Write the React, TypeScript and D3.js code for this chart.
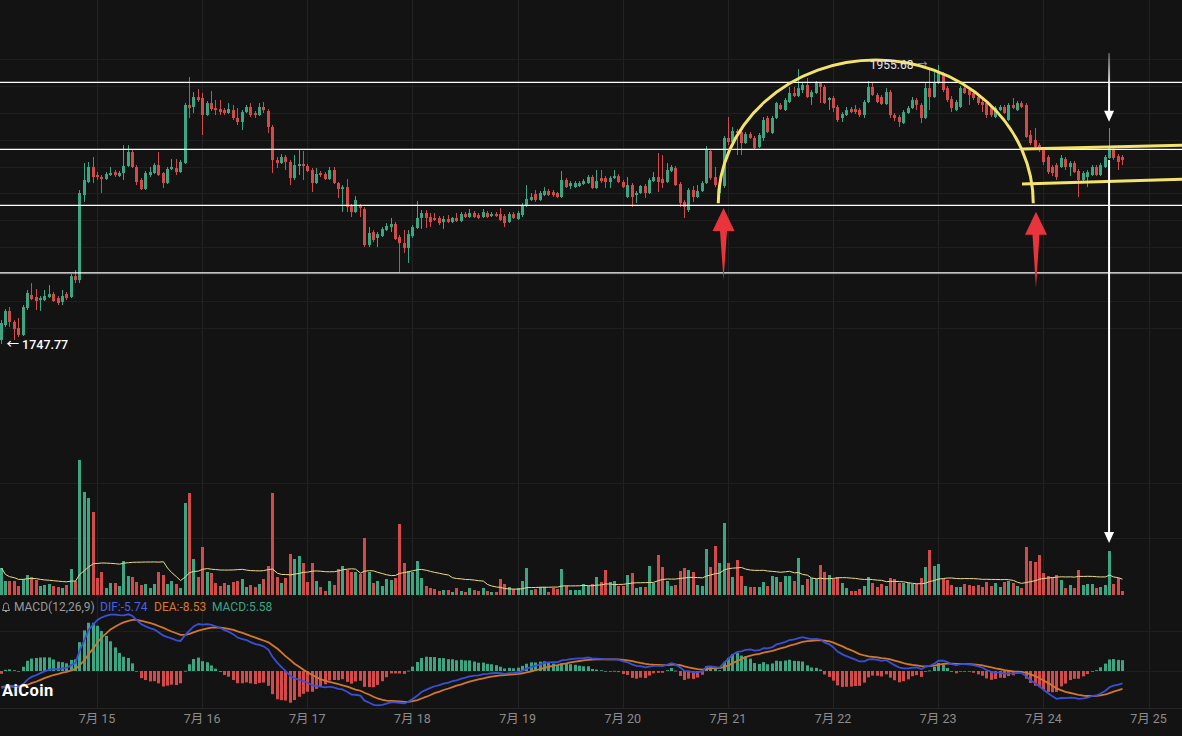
import React from 'react';
import * as d3 from 'd3';

// ---------- DATA ----------
const START = new Date(2023, 6, 14, 2, 0); // first hourly candle
// [open, high, low, close]
const CANDLES: [number, number, number, number][] = [
  [1750.7,1765.6,1747.77,1763.4],[1761.9,1773.8,1760.4,1772.4],[1772.4,1775.3,1760.4,1764.2],[1764.2,1765.6,1750.7,1758.9],[1759.7,1767.1,1753.0,1754.5],
  [1754.5,1776.8,1753.7,1775.3],[1774.6,1788.0,1773.1,1785.8],[1784.3,1793.2,1780.5,1781.3],[1782.8,1788.7,1773.1,1779.8],[1780.5,1783.5,1772.4,1782.0],
  [1780.5,1788.0,1779.8,1783.5],[1782.8,1791.7,1782.0,1785.0],[1785.0,1786.5,1779.1,1779.8],[1782.0,1783.5,1776.8,1778.3],[1779.1,1788.0,1776.8,1783.5],
  [1785.0,1786.5,1780.5,1782.0],[1782.8,1799.9,1782.0,1798.4],[1798.4,1802.9,1793.2,1795.4],[1795.4,1862.5,1793.2,1860.3],[1858.8,1882.6,1853.6,1870.0],
  [1868.5,1883.4,1867.7,1879.7],[1879.7,1887.1,1867.7,1872.2],[1873.7,1875.9,1870.0,1872.2],[1872.2,1873.7,1860.3,1870.7],[1870.7,1875.9,1870.0,1874.4],
  [1873.7,1879.7,1872.9,1875.2],[1875.9,1877.4,1872.2,1873.7],[1872.9,1876.7,1872.2,1875.2],[1875.2,1896.0,1870.0,1880.4],[1880.4,1896.0,1879.7,1890.8],
  [1890.8,1893.1,1878.9,1879.7],[1879.7,1881.1,1866.2,1868.5],[1870.0,1871.4,1862.5,1863.3],[1863.3,1876.7,1862.5,1875.2],[1873.7,1879.7,1872.2,1875.9],
  [1875.2,1882.6,1874.4,1881.1],[1881.1,1890.8,1872.9,1873.7],[1875.2,1875.9,1864.0,1867.7],[1867.7,1879.7,1867.0,1878.2],[1878.2,1885.6,1877.4,1879.7],
  [1878.9,1885.6,1873.7,1875.9],[1875.9,1884.9,1875.2,1883.4],[1882.6,1927.3,1881.9,1925.9],[1925.9,1946.7,1916.2,1923.6],[1924.4,1935.5,1919.9,1931.8],
  [1931.8,1937.8,1928.1,1929.6],[1931.1,1934.8,1903.5,1918.4],[1918.4,1928.8,1917.7,1927.3],[1927.3,1936.3,1921.4,1922.9],[1923.6,1929.6,1918.4,1922.1],
  [1922.9,1929.6,1918.4,1920.6],[1922.1,1923.6,1918.4,1919.9],[1919.9,1927.3,1919.1,1922.9],[1922.1,1925.9,1914.7,1916.2],[1916.2,1923.6,1910.9,1913.2],
  [1913.2,1922.1,1907.2,1920.6],[1920.6,1925.9,1919.9,1924.4],[1924.4,1927.3,1916.9,1918.4],[1919.9,1921.4,1916.2,1918.4],[1918.4,1927.3,1917.7,1924.4],
  [1924.4,1928.1,1919.9,1922.1],[1921.4,1922.9,1905.0,1909.5],[1909.5,1910.9,1875.2,1884.9],[1884.9,1887.1,1878.9,1882.6],[1882.6,1889.3,1881.9,1887.1],
  [1887.1,1888.6,1877.4,1883.4],[1883.4,1884.9,1866.2,1871.4],[1871.4,1888.6,1870.0,1881.1],[1880.4,1893.1,1873.7,1881.9],[1881.9,1891.6,1870.0,1880.4],
  [1880.4,1881.9,1875.9,1876.7],[1877.4,1878.9,1861.0,1867.7],[1867.7,1878.9,1867.0,1874.4],[1875.2,1876.7,1872.2,1873.7],[1874.4,1875.9,1870.0,1870.7],
  [1870.7,1879.7,1870.0,1877.4],[1877.4,1879.7,1867.0,1867.7],[1867.7,1868.5,1856.6,1863.3],[1863.3,1866.2,1846.1,1864.7],[1864.7,1870.7,1846.1,1849.8],
  [1850.6,1852.1,1842.4,1846.1],[1846.1,1858.0,1845.4,1855.1],[1850.6,1852.1,1842.4,1849.1],[1848.4,1849.8,1820.0,1821.5],[1821.5,1834.9,1820.0,1830.5],
  [1831.2,1832.7,1823.8,1825.3],[1826.8,1831.2,1820.0,1829.7],[1828.2,1834.9,1827.5,1833.5],[1832.7,1837.9,1832.0,1835.7],[1834.9,1841.7,1831.2,1837.2],
  [1837.2,1838.7,1825.3,1826.0],[1827.5,1829.0,1801.4,1823.0],[1823.0,1832.7,1815.6,1819.3],[1819.3,1832.7,1808.1,1829.7],[1828.2,1836.4,1826.8,1834.9],
  [1834.2,1854.3,1833.5,1841.7],[1841.7,1847.6,1833.5,1845.4],[1845.4,1847.6,1834.2,1841.7],[1842.4,1845.4,1834.9,1838.7],[1841.7,1845.4,1839.4,1840.2],
  [1841.7,1843.1,1836.4,1837.9],[1838.7,1843.1,1833.5,1840.9],[1840.9,1843.9,1837.9,1838.7],[1838.7,1842.4,1837.9,1841.7],[1841.7,1845.4,1838.7,1839.4],
  [1839.4,1846.1,1838.7,1844.6],[1844.6,1846.1,1841.7,1842.4],[1842.4,1848.4,1841.7,1845.4],[1845.4,1846.9,1841.7,1842.4],[1843.9,1845.4,1840.9,1841.7],
  [1842.4,1848.4,1841.7,1846.1],[1845.4,1846.9,1841.7,1842.4],[1843.1,1846.1,1842.4,1844.6],[1844.6,1846.1,1842.4,1843.1],[1844.6,1849.1,1839.4,1840.2],
  [1843.1,1844.6,1834.9,1837.9],[1838.7,1846.1,1837.9,1844.6],[1844.6,1846.1,1840.9,1841.7],[1840.9,1846.9,1840.2,1845.4],[1843.9,1852.8,1842.4,1851.3],
  [1850.6,1866.2,1849.8,1855.8],[1855.1,1860.3,1854.3,1857.3],[1859.5,1862.5,1853.6,1855.1],[1855.1,1861.8,1854.3,1860.3],[1858.8,1864.7,1858.0,1861.8],
  [1861.8,1863.3,1858.0,1858.8],[1861.0,1862.5,1857.3,1858.8],[1860.3,1861.0,1856.6,1857.3],[1857.3,1876.7,1856.6,1870.0],[1870.0,1871.4,1864.0,1864.7],
  [1865.5,1869.2,1863.3,1867.7],[1864.7,1869.2,1864.0,1867.7],[1865.5,1869.2,1864.7,1867.7],[1867.0,1870.7,1866.2,1869.2],[1867.7,1873.7,1867.0,1872.2],
  [1872.2,1873.7,1863.3,1864.0],[1864.0,1877.4,1863.3,1869.2],[1871.4,1877.4,1867.7,1869.2],[1871.4,1872.9,1864.0,1868.5],[1868.5,1872.9,1864.0,1871.4],
  [1871.4,1877.4,1870.7,1872.9],[1872.9,1874.4,1867.7,1868.5],[1868.5,1870.0,1864.0,1864.7],[1857.3,1872.2,1856.6,1866.2],[1866.2,1867.7,1849.8,1857.3],
  [1858.8,1861.8,1852.8,1860.3],[1860.3,1866.2,1859.5,1865.5],[1865.5,1867.0,1856.6,1860.3],[1860.3,1871.4,1859.5,1870.0],[1869.2,1875.9,1868.5,1872.2],
  [1872.2,1890.1,1861.0,1868.5],[1870.7,1888.6,1864.0,1867.7],[1868.5,1882.6,1867.7,1877.4],[1876.7,1881.1,1875.9,1879.7],[1878.9,1880.4,1865.5,1866.2],
  [1867.0,1868.5,1849.8,1852.8],[1853.6,1855.1,1841.7,1849.8],[1847.6,1864.0,1846.1,1862.5],[1862.5,1865.5,1853.6,1857.3],[1857.3,1866.2,1856.6,1861.8],
  [1861.8,1869.2,1861.0,1867.7],[1867.7,1895.3,1867.0,1892.3],[1891.6,1893.1,1870.0,1871.4],[1872.2,1879.7,1864.7,1866.2],[1860.3,1867.7,1856.6,1866.2],
  [1865.5,1902.8,1864.0,1901.3],[1901.3,1916.9,1896.0,1898.3],[1898.3,1909.5,1897.5,1906.5],[1906.5,1908.0,1888.6,1905.0],[1905.7,1907.2,1888.6,1897.5],
  [1897.5,1905.7,1896.8,1904.2],[1904.2,1905.7,1900.5,1901.3],[1901.3,1902.8,1893.1,1893.8],[1894.6,1905.0,1893.8,1903.5],[1901.3,1916.9,1899.0,1914.7],
  [1916.2,1917.7,1905.0,1905.7],[1905.0,1917.7,1904.2,1916.2],[1916.2,1928.1,1915.4,1927.3],[1925.9,1927.3,1922.1,1922.9],[1922.1,1931.1,1921.4,1929.6],
  [1928.1,1939.3,1927.3,1934.8],[1934.8,1939.3,1931.8,1932.6],[1932.6,1952.7,1931.8,1938.5],[1937.0,1943.0,1934.8,1940.8],[1940.8,1946.0,1931.1,1931.8],
  [1931.8,1937.0,1925.9,1935.5],[1934.8,1943.7,1934.0,1942.2],[1942.2,1943.0,1927.3,1939.3],[1939.3,1940.8,1926.6,1927.3],[1929.6,1931.8,1922.1,1931.1],
  [1931.1,1932.6,1920.6,1923.6],[1924.4,1925.9,1913.2,1914.7],[1916.2,1920.6,1913.2,1919.1],[1918.4,1924.4,1917.7,1922.1],[1922.9,1924.4,1919.9,1920.6],
  [1922.9,1925.9,1919.1,1920.6],[1922.1,1923.6,1916.9,1918.4],[1918.4,1929.6,1916.2,1928.1],[1928.1,1943.7,1927.3,1939.3],[1939.3,1942.2,1932.6,1933.3],
  [1933.3,1934.8,1927.3,1928.1],[1931.8,1933.3,1925.9,1926.6],[1926.6,1938.5,1925.9,1935.5],[1935.5,1937.0,1916.2,1918.4],[1918.4,1919.9,1913.9,1916.2],
  [1916.9,1918.4,1909.5,1913.2],[1912.4,1922.1,1911.7,1920.6],[1919.9,1925.1,1919.1,1923.6],[1923.6,1931.8,1922.9,1929.6],[1929.6,1931.1,1922.1,1925.9],
  [1925.9,1927.3,1912.4,1916.2],[1916.2,1942.2,1915.4,1938.5],[1938.5,1953.4,1922.1,1931.8],[1931.8,1950.4,1931.1,1942.2],[1942.2,1955.68,1941.5,1949.7],
  [1948.2,1950.4,1935.5,1937.0],[1938.5,1940.0,1928.1,1929.6],[1930.3,1932.6,1920.6,1923.6],[1922.1,1929.6,1921.4,1928.1],[1924.4,1940.0,1923.6,1938.5],
  [1938.5,1940.8,1934.0,1934.8],[1937.0,1938.5,1925.9,1933.3],[1934.8,1936.3,1929.6,1931.1],[1931.8,1933.3,1925.9,1927.3],[1928.1,1929.6,1920.6,1925.9],
  [1927.3,1928.8,1916.2,1918.4],[1924.4,1925.9,1916.9,1918.4],[1916.9,1925.1,1916.2,1923.6],[1922.1,1925.9,1921.4,1924.4],[1924.4,1925.9,1919.1,1919.9],
  [1914.7,1927.3,1913.9,1925.9],[1925.9,1931.1,1922.9,1923.6],[1922.1,1928.8,1921.4,1927.3],[1927.3,1928.8,1923.6,1924.4],[1925.9,1927.3,1901.3,1902.0],
  [1903.5,1907.2,1896.0,1897.5],[1899.8,1908.7,1893.8,1894.6],[1896.0,1897.5,1890.8,1892.3],[1892.3,1893.8,1881.1,1883.4],[1887.1,1888.6,1874.4,1875.9],
  [1879.7,1881.1,1872.9,1875.2],[1881.1,1882.6,1870.0,1872.2],[1879.7,1888.6,1878.9,1886.4],[1885.6,1887.1,1877.4,1879.7],[1879.7,1884.1,1872.9,1882.6],
  [1882.6,1884.1,1875.2,1875.9],[1876.7,1878.2,1857.3,1870.0],[1870.0,1876.7,1868.5,1875.2],[1872.2,1877.4,1864.7,1875.9],[1873.7,1881.1,1872.9,1879.7],
  [1879.7,1881.1,1872.9,1873.7],[1873.7,1882.6,1872.9,1881.1],[1879.7,1888.6,1878.9,1887.1],[1886.4,1908.7,1885.6,1893.8],[1892.3,1893.8,1884.9,1886.4],
  [1887.8,1889.3,1877.4,1883.4],[1887.1,1888.6,1881.1,1884.9],
];

const VOLUME = [
  27,14,14,14,9,16,20,18,15,9,
  10,11,9,8,7,10,26,14,135,103,
  97,83,17,23,7,12,12,9,34,19,
  18,13,10,11,7,11,23,20,11,14,
  11,7,92,102,36,18,48,23,22,12,
  9,12,10,13,14,16,8,10,8,11,
  16,29,102,18,12,17,41,36,39,32,
  13,32,14,8,4,14,10,26,29,25,
  23,23,21,57,23,12,14,9,16,15,
  17,71,32,24,23,34,17,9,7,6,
  4,5,5,3,7,4,3,7,5,4,
  7,4,3,3,16,11,8,6,7,14,
  27,5,6,8,8,3,7,6,26,9,
  5,5,5,11,9,11,18,13,25,13,
  14,9,9,20,22,7,8,8,29,12,
  40,28,14,9,10,24,27,25,23,10,
  9,46,28,49,32,72,32,18,35,19,
  9,8,8,8,13,9,19,18,13,19,
  19,14,37,10,16,17,16,30,23,20,
  16,18,12,7,4,4,6,9,18,12,
  8,11,9,17,16,12,12,12,11,11,
  17,28,45,29,31,16,15,10,8,8,
  11,10,9,10,8,13,9,12,8,13,
  14,12,9,7,48,34,33,40,22,19,
  18,20,15,7,10,7,25,10,11,11,
  7,8,10,44,11,17,4,
];

const DAY_TICKS = d3.timeDay.range(new Date(2023, 6, 15), new Date(2023, 6, 26));
const PRICE_GRID = [1760, 1780, 1800, 1820, 1840, 1860, 1880, 1900, 1920, 1940, 1960];
const VOLUME_GRID = [57, 112];
const MACD_GRID = [0, 19];
const PRICE_LINES = [1942.8, 1892.8, 1851.1, 1800.7];
const MACD_SEED = { ema12: 1768, ema26: 1776.5, dea: -7.4 };
const MACD_LEGEND = { dif: '-5.74', dea: '-8.53', macd: '5.58' };
const VOL_MA_PERIOD = 20;

const ARC = { from: new Date(2023, 6, 20, 21, 48), to: new Date(2023, 6, 23, 21, 42), base: 1852.6, top: 1959.4 };
const CHANNEL = [
  { from: new Date(2023, 6, 23, 19, 8), to: new Date(2023, 6, 25, 7, 40), p0: 1893.1, p1: 1895.9 },
  { from: new Date(2023, 6, 23, 19, 8), to: new Date(2023, 6, 25, 7, 40), p0: 1867.0, p1: 1870.6 },
];
const RED_ARROWS = [
  { t: new Date(2023, 6, 20, 23, 0), tip: 1849.1, tail: 1795.4 },
  { t: new Date(2023, 6, 23, 22, 19), tip: 1846.4, tail: 1789.5 },
];
const WHITE_ARROW = { t: new Date(2023, 6, 24, 15, 0), top: 1964.6, tip1: 1913.4, resume: 1884.9, tipVol: 52 };

const GREEN = '#3ca582';
const RED = '#d24b4b';
const FONT = "Roboto, 'Noto Sans CJK SC', 'Noto Sans', sans-serif";

export default function App() {
  const W = 1182, H = 736;
  const x = d3.scaleTime().domain([new Date(2023, 6, 15), new Date(2023, 6, 25)]).range([97, 1148.5]);
  const y = d3.scaleLinear().domain([1747.77, 1955.68]).range([344, 65]);
  const yv = d3.scaleLinear().domain([0, 135]).range([595, 460]);
  const ym = d3.scaleLinear().domain([-15, 20]).range([702.5, 629]);

  const times = CANDLES.map((_, i) => new Date(START.getTime() + i * 3600e3));
  const cx = (i: number) => Math.round(x(times[i])) + 0.5;

  // volume MA
  const volMA = VOLUME.map((_, i) => d3.mean(VOLUME.slice(Math.max(0, i - VOL_MA_PERIOD + 1), i + 1)) as number);

  // MACD from closes
  let e12 = MACD_SEED.ema12, e26 = MACD_SEED.ema26, dea = MACD_SEED.dea;
  const macd = CANDLES.map((c) => {
    e12 += (c[3] - e12) * 2 / 13;
    e26 += (c[3] - e26) * 2 / 27;
    const dif = e12 - e26;
    dea += (dif - dea) * 2 / 10;
    return { dif, dea, hist: 2 * (dif - dea) };
  });

  const lineDif = d3.line<any>().x((_, i) => cx(i)).y((d) => ym(d.dif));
  const lineDea = d3.line<any>().x((_, i) => cx(i)).y((d) => ym(d.dea));
  const lineVolMA = d3.line<number>().x((_, i) => cx(i)).y((d) => yv(d));

  const hiIdx = d3.maxIndex(CANDLES, (c) => c[1]);
  const loIdx = d3.minIndex(CANDLES, (c) => c[2]);

  // arc
  const ax0 = x(ARC.from), ax1 = x(ARC.to), ayb = y(ARC.base), ayt = y(ARC.top);
  const arcPath = `M${ax0},${ayb} A${(ax1 - ax0) / 2},${ayb - ayt} 0 0 1 ${ax1},${ayb}`;

  const redArrow = (a: typeof RED_ARROWS[0]) => {
    const ax = x(a.t), yt = y(a.tip), yb = y(a.tail);
    const hb = yt + 23;
    return `M${ax},${yt} L${ax + 11},${hb} L${ax + 3.5},${hb} L${ax},${yb} L${ax - 3.5},${hb} L${ax - 11},${hb} Z`;
  };

  const wx = x(WHITE_ARROW.t);
  const wTop = y(WHITE_ARROW.top), wTip1 = y(WHITE_ARROW.tip1), wRes = y(WHITE_ARROW.resume), wTip2 = yv(WHITE_ARROW.tipVol);

  return (
    <svg width={W} height={H} style={{ position: 'absolute', left: 0, top: 0, background: '#131313' }} fontFamily={FONT}>
      <defs>
        <linearGradient id="wfade" gradientUnits="userSpaceOnUse" x1={0} y1={wTop} x2={0} y2={wTip1}>
          <stop offset="0" stopColor="#ffffff" stopOpacity={0.25} />
          <stop offset="0.5" stopColor="#ffffff" stopOpacity={0.95} />
          <stop offset="1" stopColor="#ffffff" stopOpacity={1} />
        </linearGradient>
      </defs>
      <rect x={0} y={0} width={W} height={H} fill="#131313" />
      {/* grid */}
      {DAY_TICKS.map((d, i) => (
        <line key={'vg' + i} x1={Math.round(x(d)) + 0.5} x2={Math.round(x(d)) + 0.5} y1={0} y2={708} stroke="#232323" />
      ))}
      {PRICE_GRID.map((p) => (
        <line key={'pg' + p} x1={0} x2={W} y1={Math.round(y(p)) + 0.5} y2={Math.round(y(p)) + 0.5} stroke="#1f1f1f" />
      ))}
      {VOLUME_GRID.map((v) => (
        <line key={'vgg' + v} x1={0} x2={W} y1={Math.round(yv(v)) + 0.5} y2={Math.round(yv(v)) + 0.5} stroke="#1f1f1f" />
      ))}
      {MACD_GRID.map((v) => (
        <line key={'mg' + v} x1={0} x2={W} y1={Math.round(ym(v)) + 0.5} y2={Math.round(ym(v)) + 0.5} stroke="#1f1f1f" />
      ))}
      <line x1={0} x2={W} y1={708.5} y2={708.5} stroke="#262626" />

      {/* volume */}
      {VOLUME.map((v, i) => {
        const c = CANDLES[i];
        return (
          <rect key={'v' + i} x={cx(i) - 1.5} width={3} y={yv(v)} height={yv(0) - yv(v)} fill={c[3] >= c[0] ? GREEN : RED} />
        );
      })}
      <path d={lineVolMA(volMA) || ''} fill="none" stroke="#ecdc8c" strokeWidth={1} />

      {/* candles */}
      {CANDLES.map((c, i) => {
        const [o, h, l, cl] = c;
        const col = cl >= o ? GREEN : RED;
        const top = y(Math.max(o, cl)), bot = y(Math.min(o, cl));
        return (
          <g key={'c' + i}>
            <line x1={cx(i)} x2={cx(i)} y1={y(h)} y2={y(l)} stroke={col} strokeWidth={1} />
            <rect x={cx(i) - 1.5} width={3} y={top} height={Math.max(1, bot - top)} fill={col} />
          </g>
        );
      })}

      {/* macd */}
      {macd.map((m, i) => (
        <rect key={'h' + i} x={cx(i) - 1.5} width={3}
          y={Math.min(ym(m.hist), ym(0))} height={Math.max(0.8, Math.abs(ym(m.hist) - ym(0)))}
          fill={m.hist >= 0 ? GREEN : RED} />
      ))}
      <path d={lineDea(macd) || ''} fill="none" stroke="#d2782d" strokeWidth={1.8} />
      <path d={lineDif(macd) || ''} fill="none" stroke="#3a4fd8" strokeWidth={1.8} />

      {/* drawings */}
      {PRICE_LINES.map((p) => (
        <line key={'pl' + p} x1={0} x2={W} y1={y(p)} y2={y(p)} stroke="#ffffff" strokeWidth={1.3} />
      ))}
      <path d={arcPath} fill="none" stroke="#f3e36b" strokeWidth={3} />
      {CHANNEL.map((c, i) => (
        <line key={'ch' + i} x1={x(c.from)} x2={x(c.to)} y1={y(c.p0)} y2={y(c.p1)} stroke="#f3e36b" strokeWidth={3} />
      ))}
      {RED_ARROWS.map((a, i) => (
        <path key={'ra' + i} d={redArrow(a)} fill="#e8343a" />
      ))}
      <rect x={wx - 1} width={2} y={wTop} height={wTip1 - 9 - wTop} fill="url(#wfade)" />
      <path d={`M${wx},${wTip1} L${wx - 5},${wTip1 - 11} L${wx + 5},${wTip1 - 11} Z`} fill="#ffffff" />
      <line x1={wx} x2={wx} y1={wRes} y2={wTip2 - 9} stroke="#ffffff" strokeWidth={2} />
      <path d={`M${wx},${wTip2} L${wx - 5},${wTip2 - 11} L${wx + 5},${wTip2 - 11} Z`} fill="#ffffff" />

      {/* hi / lo labels */}
      <text x={cx(hiIdx) - 25} y={y(CANDLES[hiIdx][1]) + 4} textAnchor="end" fill="#e6e6e6" fontSize={12}>
        {CANDLES[hiIdx][1].toFixed(2)}
      </text>
      <text x={cx(hiIdx) - 21} y={y(CANDLES[hiIdx][1]) + 3} fill="#9a9a9a" fontSize={10}>→</text>
      <text x={cx(loIdx) + 5} y={y(CANDLES[loIdx][2]) + 5} fill="#ffffff" fontSize={12.5} fontWeight={500}>
        {'← ' + CANDLES[loIdx][2].toFixed(2)}
      </text>

      {/* macd legend */}
      <g transform="translate(2,602)">
        <path d="M4,1 C1.5,1 1.5,4 1.5,6 L0.5,8.5 L7.5,8.5 L6.5,6 C6.5,4 6.5,1 4,1 Z M3,9.5 L5,9.5" fill="none" stroke="#9a9a9a" strokeWidth={1} />
      </g>
      <text y={611} fontSize={12}>
        <tspan x={14} fill="#9a9a9a">MACD(12,26,9)</tspan>
        <tspan x={100} fill="#4a63e0">{'DIF:' + MACD_LEGEND.dif}</tspan>
        <tspan x={154} fill="#d9782d">{'DEA:' + MACD_LEGEND.dea}</tspan>
        <tspan x={212} fill={GREEN}>{'MACD:' + MACD_LEGEND.macd}</tspan>
      </text>
      <text x={2} y={696} fill="#ffffff" fontSize={16.5} fontWeight={700} letterSpacing={0.4}>AiCoin</text>

      {/* x axis */}
      {DAY_TICKS.map((d, i) => (
        <text key={'xl' + i} x={x(d)} y={723} textAnchor="middle" fill="#8c8c8c" fontSize={12.5}>
          {`7月 ${d.getDate()}`}
        </text>
      ))}
    </svg>
  );
}
